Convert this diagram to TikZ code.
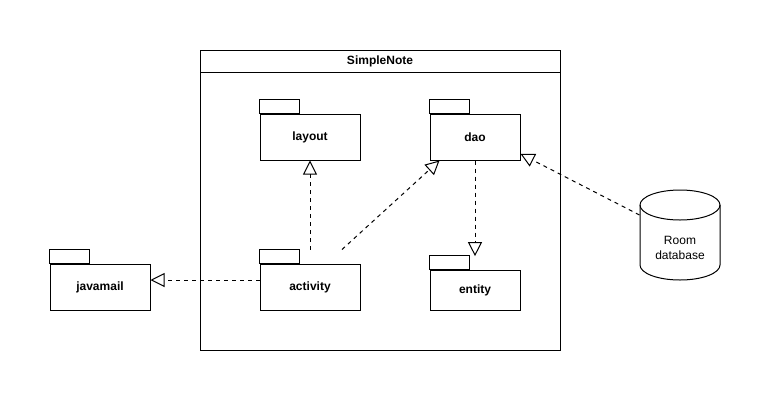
\documentclass[tikz,border=0pt]{standalone}
\usepackage{fontspec}
\setmainfont{Liberation Sans}
\usetikzlibrary{arrows.meta,calc}
\begin{document}
\begin{tikzpicture}[x=0.75pt,y=0.75pt,
  every path/.style={line width=0.75pt},
  pkgbody/.style={draw,fill=white,inner sep=0pt,minimum width=75pt,minimum height=34.5pt,
    font=\fontsize{9}{11}\selectfont\bfseries},
  dep/.style={dash pattern=on 3pt off 3pt,
    -{Triangle[open,length=10.5pt,width=10.5pt]}}]
\useasboundingbox (0,0) rectangle (772,-401);

% SimpleNote container with its title bar
\node[draw,minimum width=270pt,minimum height=225pt,inner sep=0pt] (simplenote) at (380,-200) {};
\node[draw,minimum width=270pt,minimum height=17pt,inner sep=0pt,
  font=\fontsize{9}{11}\selectfont\bfseries,anchor=north] (title) at (simplenote.north) {SimpleNote};

% package bodies
\node[pkgbody] (layout) at (310,-137) {layout};
\node[pkgbody,minimum width=67.5pt] (dao) at (475,-137) {dao};
\node[pkgbody] (activity) at (310,-287) {activity};
\node[pkgbody,minimum width=67.5pt,minimum height=30pt] (entity) at (475,-290) {entity};
\node[pkgbody] (javamail) at (100,-287) {javamail};

% package tabs
\foreach \p in {layout,dao,activity,entity,javamail}
  \draw (\p.north west) rectangle ++(40,14);

% Room database cylinder
\draw[fill=white] (640,-205) -- (640,-265)
  arc[start angle=180,end angle=360,x radius=40,y radius=15] -- (720,-205)
  arc[start angle=0,end angle=180,x radius=40,y radius=15] -- cycle;
\draw (640,-205) arc[start angle=180,end angle=360,x radius=40,y radius=15];
\node[align=center,inner sep=0pt,minimum width=60pt,
  font=\fontsize{9}{11.25}\selectfont] (room) at (680,-248) {Room\\database};

% dependencies
\draw[dep] ([yshift=10.5pt]activity.north) -- (layout.south);
\draw[dep] ([xshift=24pt,yshift=10.5pt]activity.north) -- ([xshift=7.5pt]dao.south west);
\draw[dep] (dao.south) -- ([yshift=10pt]entity.north);
\draw[dep] ($(room.west)+(0,33)$) -- ([yshift=5pt]dao.south east);
\draw[dep] ([yshift=5.25pt]activity.west) -- ([yshift=5.25pt]javamail.east);
\end{tikzpicture}
\end{document}
